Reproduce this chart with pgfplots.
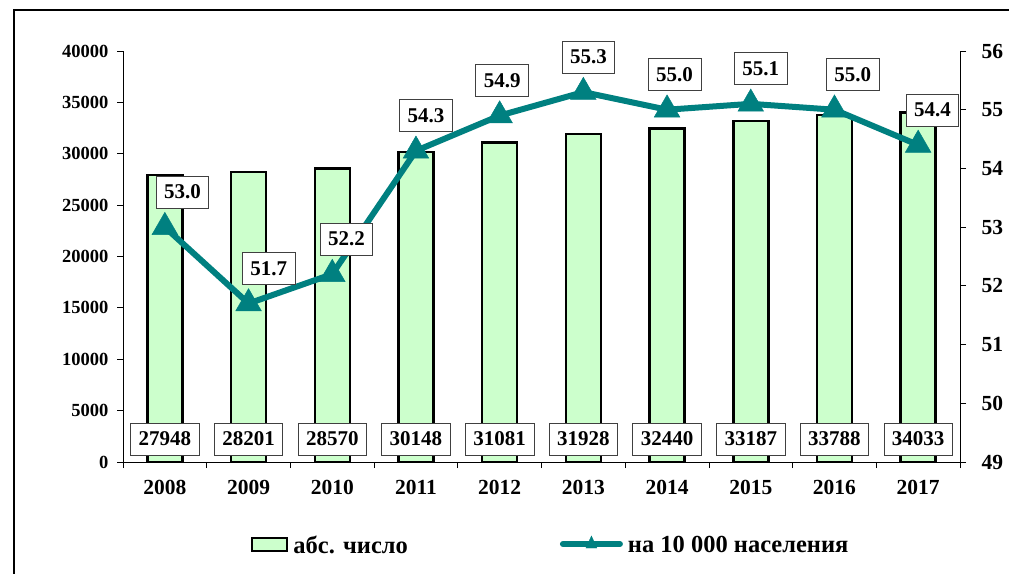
\documentclass[border=0pt]{standalone}
\usepackage{fontspec}
\setmainfont{Liberation Serif}
\usepackage{pgfplots}
\pgfplotsset{compat=1.18}
\definecolor{barfill}{HTML}{CCFFCC}
\definecolor{lineteal}{HTML}{008080}
\tikzset{lblbox/.style={draw=black!75, line width=0.8bp, fill=white, text=black, inner xsep=8bp, inner ysep=0bp, minimum height=32bp, font=\fontsize{21bp}{25bp}\selectfont\bfseries}}
\begin{document}
\begin{tikzpicture}
\path[use as bounding box] (0bp,0bp) rectangle (1009bp,574bp);
\draw[line width=2bp] (14bp,0bp) -- (14bp,564bp) -- (1009bp,564bp);
\begin{axis}[
  at={(123bp,112bp)}, anchor=south west,
  scale only axis, width=837bp, height=411bp,
  xmin=-0.5, xmax=9.5, ymin=0, ymax=40000,
  axis x line*=bottom, axis y line*=left,
  axis line style={black, line width=0.8bp},
  xtick={0,...,9},
  xticklabels={2008,2009,2010,2011,2012,2013,2014,2015,2016,2017},
  major x tick style={draw=none},
  minor xtick={-0.5,0.5,...,9.5},
  minor tick length=6bp, major tick length=6bp,
  tick align=outside,
  tick style={black, line width=0.8bp},
  ytick={0,5000,...,40000},
  scaled y ticks=false,
  /pgf/number format/1000 sep={},
  /pgf/number format/assume math mode=true,
  yticklabel style={font=\fontsize{18.5bp}{22bp}\selectfont\bfseries, xshift=-5bp},
  xticklabel style={font=\fontsize{21.5bp}{25bp}\selectfont\bfseries, yshift=-9bp},
  clip=false,
]
\addplot[ybar, bar width=35bp, bar shift=0bp, fill=barfill, draw=black, line width=2.5bp]
  coordinates {(0,27948) (1,28201) (2,28570) (3,30148) (4,31081) (5,31928) (6,32440) (7,33187) (8,33788) (9,34033)};
\addplot[draw=none, mark=none, nodes near coords, point meta=explicit symbolic,
  nodes near coords style={anchor=center, lblbox}]
  coordinates {(0,2238)[27948] (1,2238)[28201] (2,2238)[28570] (3,2238)[30148] (4,2238)[31081] (5,2238)[31928] (6,2238)[32440] (7,2238)[33187] (8,2238)[33788] (9,2238)[34033]};
\end{axis}
\begin{axis}[
  at={(123bp,112bp)}, anchor=south west,
  scale only axis, width=837bp, height=411bp,
  xmin=-0.5, xmax=9.5, ymin=49, ymax=56,
  axis x line=none, axis y line*=right,
  axis line style={black, line width=0.8bp},
  ytick={49,...,56},
  major tick length=6bp, tick align=outside,
  tick style={black, line width=0.8bp},
  /pgf/number format/assume math mode=true,
  yticklabel style={font=\fontsize{21.5bp}{25bp}\selectfont\bfseries, xshift=12bp},
  clip=false,
  legend style={at={(0.511,-0.202)}, anchor=center, draw=none, fill=none,
    font=\fontsize{24.5bp}{28bp}\selectfont\bfseries, inner sep=0bp,
    /tikz/every odd column/.append style={column sep=3bp},
    /tikz/every even column/.append style={column sep=150bp}},
  legend columns=2,
  legend cell align=left,
]
\addlegendimage{legend image code/.code={\draw[fill=barfill, draw=black, line width=2.5bp] (0bp,-6bp) rectangle (35bp,7bp);}}
\addlegendentry{абс. число}
\addlegendimage{legend image code/.code={\draw[lineteal, line width=6bp, line cap=round] (0bp,1bp) -- (57bp,1bp); \fill[lineteal] (28.5bp,9bp) -- (23bp,-3bp) -- (34bp,-3bp) -- cycle;}}
\addlegendentry{на 10 000 населения}
\addplot[forget plot, color=lineteal, line width=6bp, mark=triangle*, mark size=14.8bp, mark options={solid, line width=0.5bp}]
  coordinates {(0,53.0) (1,51.7) (2,52.2) (3,54.3) (4,54.9) (5,55.3) (6,55.0) (7,55.1) (8,55.0) (9,54.4)};
\addplot[forget plot, draw=none, mark=none, nodes near coords, point meta=explicit symbolic,
  nodes near coords style={anchor=center, lblbox, yshift=35bp}]
  coordinates {(0.21,53.0)[53.0] (1.24,51.7)[51.7] (2.17,52.2)[52.2] (3.12,54.3)[54.3] (4.03,54.9)[54.9] (5.06,55.3)[55.3] (6.09,55.0)[55.0] (7.12,55.1)[55.1] (8.22,55.0)[55.0] (9.17,54.4)[54.4]};
\end{axis}
\end{tikzpicture}
\end{document}
